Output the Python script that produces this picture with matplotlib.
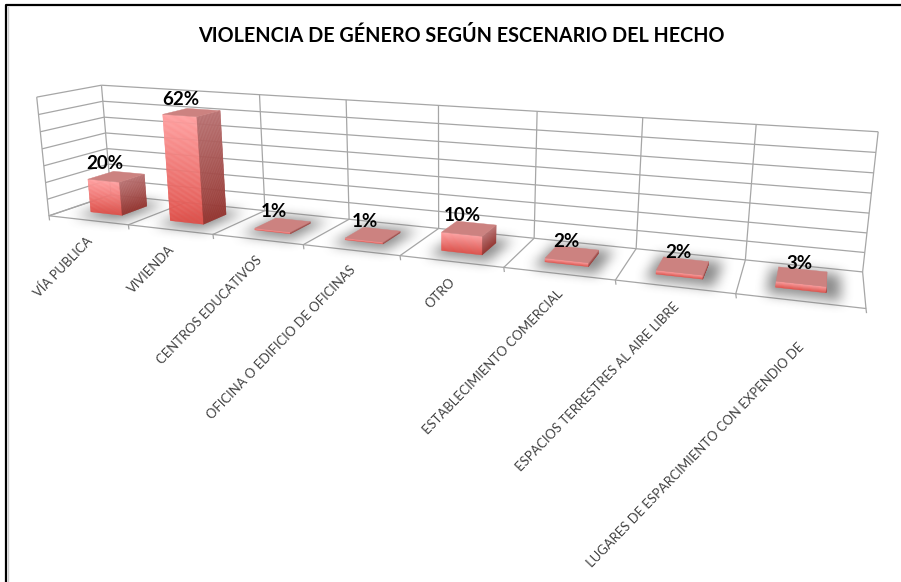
import numpy as np
import matplotlib
matplotlib.use('Agg')
import matplotlib.pyplot as plt
from matplotlib.path import Path
from matplotlib.colors import to_rgb

categories = ['VÍA PUBLICA', 'VIVIENDA', 'CENTROS EDUCATIVOS',
              'OFICINA O EDIFICIO DE OFICINAS', 'OTRO',
              'ESTABLECIMIENTO COMERCIAL', 'ESPACIOS TERRESTRES AL AIRE LIBRE',
              'LUGARES DE ESPARCIMIENTO CON EXPENDIO DE']
values = [20, 62, 1, 1, 10, 2, 2, 3]
value_labels = ['20%', '62%', '1%', '1%', '10%', '2%', '2%', '3%']
title = 'VIOLENCIA DE GÉNERO SEGÚN ESCENARIO DEL HECHO'
z_ticks = [0, 10, 20, 30, 40, 50, 60, 70]

W, H = 901, 582
n = len(values)
z_max = z_ticks[-1]

# camera: model point (category, depth, value) -> picture pixel, fitted to the box corners
model_pts = [(0, 0, 0), (n, 0, 0), (0, 1, 0), (n, 1, 0),
             (0, 0, z_max), (0, 1, z_max), (n, 1, z_max),
             (2, 0, 0), (4, 0, 0), (6, 0, 0), (2, 1, z_max), (4, 1, z_max), (6, 1, z_max)]
pixel_pts = [(50, 215), (866, 310), (110, 197), (863, 269),
             (36, 97), (102, 84), (878, 132),
             (213, 233), (400, 255), (615, 282), (260, 95), (438, 106), (643, 118)]

rows = []
for (x, y, z), (u, v) in zip(model_pts, pixel_pts):
    rows.append([x, y, z, 1, 0, 0, 0, 0, -u * x, -u * y, -u * z, -u])
    rows.append([0, 0, 0, 0, x, y, z, 1, -v * x, -v * y, -v * z, -v])
P = np.linalg.svd(np.array(rows, dtype=float))[2][-1].reshape(3, 4)


def project(x, y, z):
    p = P @ np.array([x, y, z, 1.0])
    return float(p[0] / p[2]), float(p[1] / p[2])


def quad(ax, pts, color, zorder):
    xy = [project(*p) for p in pts]
    ax.fill(*zip(*xy), color=color, lw=0.3, zorder=zorder)


def mix(c1, c2, t):
    return tuple(np.array(to_rgb(c1)) * (1 - t) + np.array(to_rgb(c2)) * t)


def box_blur(a, r):
    kernel = np.ones(2 * r + 1) / (2 * r + 1)
    a = np.apply_along_axis(np.convolve, 0, a, kernel, 'same')
    return np.apply_along_axis(np.convolve, 1, a, kernel, 'same')


def draw_shadow(ax, x0, x1, y0, y1):
    # footprint a bit larger than the bar, then blurred
    x0, x1 = x0 - 0.08, x1 + 0.12
    y0, y1 = y0 - 0.2, y1 + 0.2
    corners = [project(x0, y0, 0), project(x1, y0, 0), project(x1, y1, 0), project(x0, y1, 0)]
    xs, ys = zip(*corners)
    left, right = int(min(xs)) - 45, int(max(xs)) + 45
    top, bottom = int(min(ys)) - 35, int(max(ys)) + 35
    gx, gy = np.meshgrid(np.arange(left, right), np.arange(top, bottom))
    inside = Path(corners).contains_points(np.c_[gx.ravel(), gy.ravel()]).reshape(gx.shape)
    a = box_blur(box_blur(inside.astype(float), 8), 5)
    rgba = np.zeros(a.shape + (4,))
    rgba[..., :3] = 0.4
    rgba[..., 3] = 0.72 * (a / a.max()) ** 1.2
    ax.imshow(rgba, extent=(left, right, bottom, top), zorder=3, aspect='auto')


def draw_bar(ax, i, value, width=0.4, depth=0.42):
    x0, x1 = i + 0.5 - width / 2, i + 0.5 + width / 2
    y0, y1 = 0.5 - depth / 2, 0.5 + depth / 2
    draw_shadow(ax, x0, x1, y0, y1)
    steps = max(int(value), 1) * 2
    zs = np.linspace(0, value, steps + 1)
    for k in range(steps):
        # gradient runs over the whole bar height, lighter at the top
        t = (zs[k] + zs[k + 1]) / 2 / value
        quad(ax, [(x0, y0, zs[k]), (x1, y0, zs[k]), (x1, y0, zs[k + 1]), (x0, y0, zs[k + 1])],
             mix('#e0504a', '#ff9f9f', t), 4)
        quad(ax, [(x1, y0, zs[k]), (x1, y1, zs[k]), (x1, y1, zs[k + 1]), (x1, y0, zs[k + 1])],
             mix('#953530', '#b87070', t), 4)
    quad(ax, [(x0, y0, value), (x1, y0, value), (x1, y1, value), (x0, y1, value)], '#cc8280', 5)


fig = plt.figure(figsize=(W / 100, H / 100), dpi=100)
plt.rcParams['font.family'] = ['Lato', 'DejaVu Sans']
ax = fig.add_axes([0, 0, 1, 1])

# outer frame
ax.plot([6, 6, W], [H, 5, 5], color='black', lw=1.6, zorder=1)
ax.plot([8, 8], [H, 7], color='#cccccc', lw=1, zorder=1)

grid = '#a6a6a6'


def line3d(p, q, zorder=2, color=grid, lw=0.9):
    a, b = project(*p), project(*q)
    ax.plot([a[0], b[0]], [a[1], b[1]], color=color, lw=lw, zorder=zorder, solid_capstyle='butt')


for z in z_ticks:
    line3d((0, 0, z), (0, 1, z))
    line3d((0, 1, z), (n, 1, z))
for i in range(n + 1):
    line3d((i, 0, 0), (i, 1, 0))
    if i != 1:
        line3d((i, 1, 0), (i, 1, z_max))
line3d((0, 0, 0), (0, 0, z_max))
line3d((0, 0, 0), (n, 0, 0))
for i in range(n + 1):
    a = project(i, 0, 0)
    ax.plot([a[0], a[0] + 0.5], [a[1], a[1] + 4], color=grid, lw=0.9, zorder=2)

for i, v in enumerate(values):
    draw_bar(ax, i, v)

ax.set_xlim(0, W)
ax.set_ylim(H, 0)
ax.axis('off')

for i, (v, lab) in enumerate(zip(values, value_labels)):
    px, py = project(i + 0.5, 0.5, v)
    ax.annotate(lab, (px, py), xytext=(-12 + i * 1.3, 13), textcoords='offset pixels', ha='center', va='center',
                fontsize=13.5, fontweight='bold', color='black', zorder=6)

for i, lab in enumerate(categories):
    px, py = project(i + 0.5, 0, 0)
    # the last label sits lower in the reference
    drop = 40 if i == n - 1 else 14
    ax.annotate(lab, (px, py), xytext=(-2, -drop), textcoords='offset pixels', rotation=46,
                rotation_mode='anchor', ha='right', va='top', fontsize=9.4, color='#404040', zorder=6)

ax.text(461, 36, title, ha='center', va='center', fontsize=14.2, fontweight='bold', color='black')

fig.savefig('out.png', dpi=100)
